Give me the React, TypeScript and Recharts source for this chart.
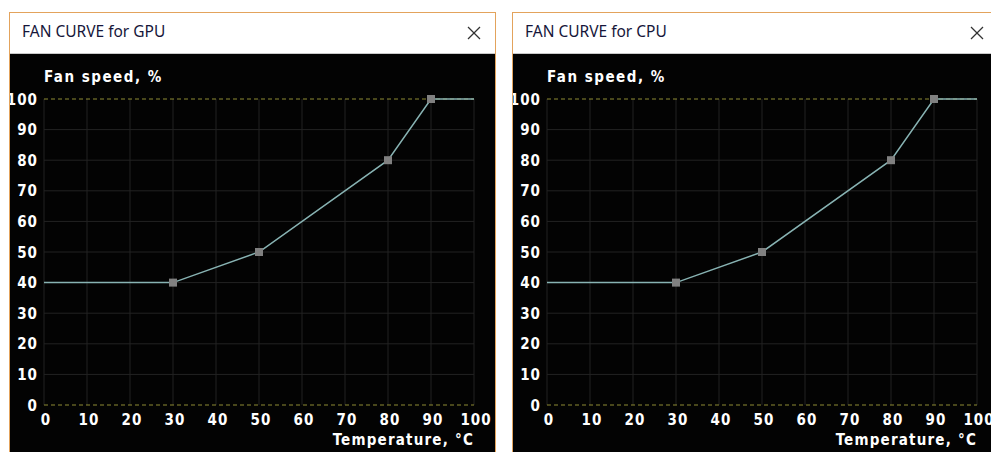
import { LineChart, Line, XAxis, YAxis, ReferenceLine } from 'recharts';

// fan curve points (temperature °C -> fan speed %)
const temperatures = [0, 30, 50, 80, 90, 100];
const gpuSpeeds = [40, 40, 50, 80, 100, 100];
const cpuSpeeds = [40, 40, 50, 80, 100, 100];

const xTicks = [0, 10, 20, 30, 40, 50, 60, 70, 80, 90, 100];
const yTicks = [0, 10, 20, 30, 40, 50, 60, 70, 80, 90, 100];

const panels = [
  { name: 'GPU', speeds: gpuSpeeds },
  { name: 'CPU', speeds: cpuSpeeds },
];

const labelFont = {
  fontFamily: '"DejaVu Sans Condensed", "DejaVu Sans", sans-serif',
  fontWeight: 'bold' as const,
  fontSize: 15,
  fill: '#ffffff',
};

const XTick = (props: any) => {
  const { x, y, payload } = props;
  return (
    <text x={x + 2} y={y} dy={12} textAnchor="middle" {...labelFont} letterSpacing={1}>
      {payload.value}
    </text>
  );
};

const YTick = (props: any) => {
  const { x, y, payload } = props;
  return (
    <text x={x + 2} y={y} dy={5.5} textAnchor="end" {...labelFont} letterSpacing={1}>
      {payload.value}
    </text>
  );
};

const Handle = (props: any) => {
  const { cx, cy, index } = props;
  if (index === 0 || index === temperatures.length - 1) return <g key={index} />;
  return <rect key={index} x={cx - 4} y={cy - 4} width={8} height={8} fill="#808080" />;
};

const FanWindow = ({ name, speeds, left }: { name: string; speeds: number[]; left: number }) => {
  const data = temperatures.map((t, i) => ({ temp: t, speed: speeds[i] }));
  return (
    <div
      style={{
        position: 'absolute',
        left,
        top: 12,
        width: 485,
        height: 440,
        borderTop: '1px solid #e3a35c',
        borderLeft: '1px solid #e3a35c',
        borderRight: '1px solid #e3a35c',
        background: '#030303',
        overflow: 'hidden',
      }}
    >
      {/* title bar */}
      <div
        style={{
          position: 'absolute',
          left: 0,
          top: 0,
          width: 485,
          height: 40,
          background: '#fff',
          borderBottom: '1px solid #c9c9c9',
        }}
      >
        <div
          style={{
            position: 'absolute',
            left: 12,
            top: 8,
            lineHeight: '20px',
            fontFamily: '"Noto Sans", sans-serif',
            fontSize: 15.5,
            color: '#16163a',
            whiteSpace: 'nowrap',
          }}
        >
          FAN CURVE for {name}
        </div>
        <svg style={{ position: 'absolute', left: 457, top: 13 }} width={14} height={14}>
          <line x1={1} y1={1} x2={13} y2={13} stroke="#333" strokeWidth={1.2} />
          <line x1={13} y1={1} x2={1} y2={13} stroke="#333" strokeWidth={1.2} />
        </svg>
      </div>

      <div style={{ position: 'absolute', left: 0, top: 41 }}>
        <LineChart width={485} height={398} data={data} margin={{ top: 45, right: 21, left: 0, bottom: 0 }}>
          <XAxis
            dataKey="temp"
            type="number"
            domain={[0, 100]}
            ticks={xTicks}
            axisLine={false}
            tickLine={false}
            height={47}
            tick={<XTick />}
            interval={0}
          />
          <YAxis
            type="number"
            domain={[0, 100]}
            ticks={yTicks}
            axisLine={false}
            tickLine={false}
            width={34}
            tick={<YTick />}
            interval={0}
          />
          {xTicks.map((t) => (
            <ReferenceLine key={'vx' + t} x={t} stroke="#232323" strokeWidth={1} />
          ))}
          {yTicks.slice(1, -1).map((t) => (
            <ReferenceLine key={'hy' + t} y={t} stroke="#232323" strokeWidth={1} />
          ))}
          {[yTicks[0], yTicks[yTicks.length - 1]].map((t) => (
            <ReferenceLine key={'dy' + t} y={t} stroke="#8f8c34" strokeWidth={1} strokeDasharray="4 3" />
          ))}
          <Line
            type="linear"
            dataKey="speed"
            stroke="#88b3b3"
            strokeWidth={1.5}
            dot={<Handle />}
            activeDot={false}
            isAnimationActive={false}
          />
        </LineChart>
        <svg style={{ position: 'absolute', left: 0, top: 0, pointerEvents: 'none' }} width={485} height={398}>
          <text x={34} y={28} {...labelFont} letterSpacing={1.5}>
            Fan speed, %
          </text>
          <text x={464} y={391} textAnchor="end" {...labelFont} letterSpacing={1.2}>
            Temperature, °C
          </text>
        </svg>
      </div>
    </div>
  );
}

export default function App() {
  return (
    <div
      style={{
        position: 'fixed',
        left: 0,
        top: 0,
        width: 991,
        height: 452,
        background: '#fff',
        overflow: 'hidden',
      }}
    >
      {panels.map((p, i) => (
        <FanWindow key={p.name} name={p.name} speeds={p.speeds} left={9 + i * 503} />
      ))}
    </div>
  );
}
